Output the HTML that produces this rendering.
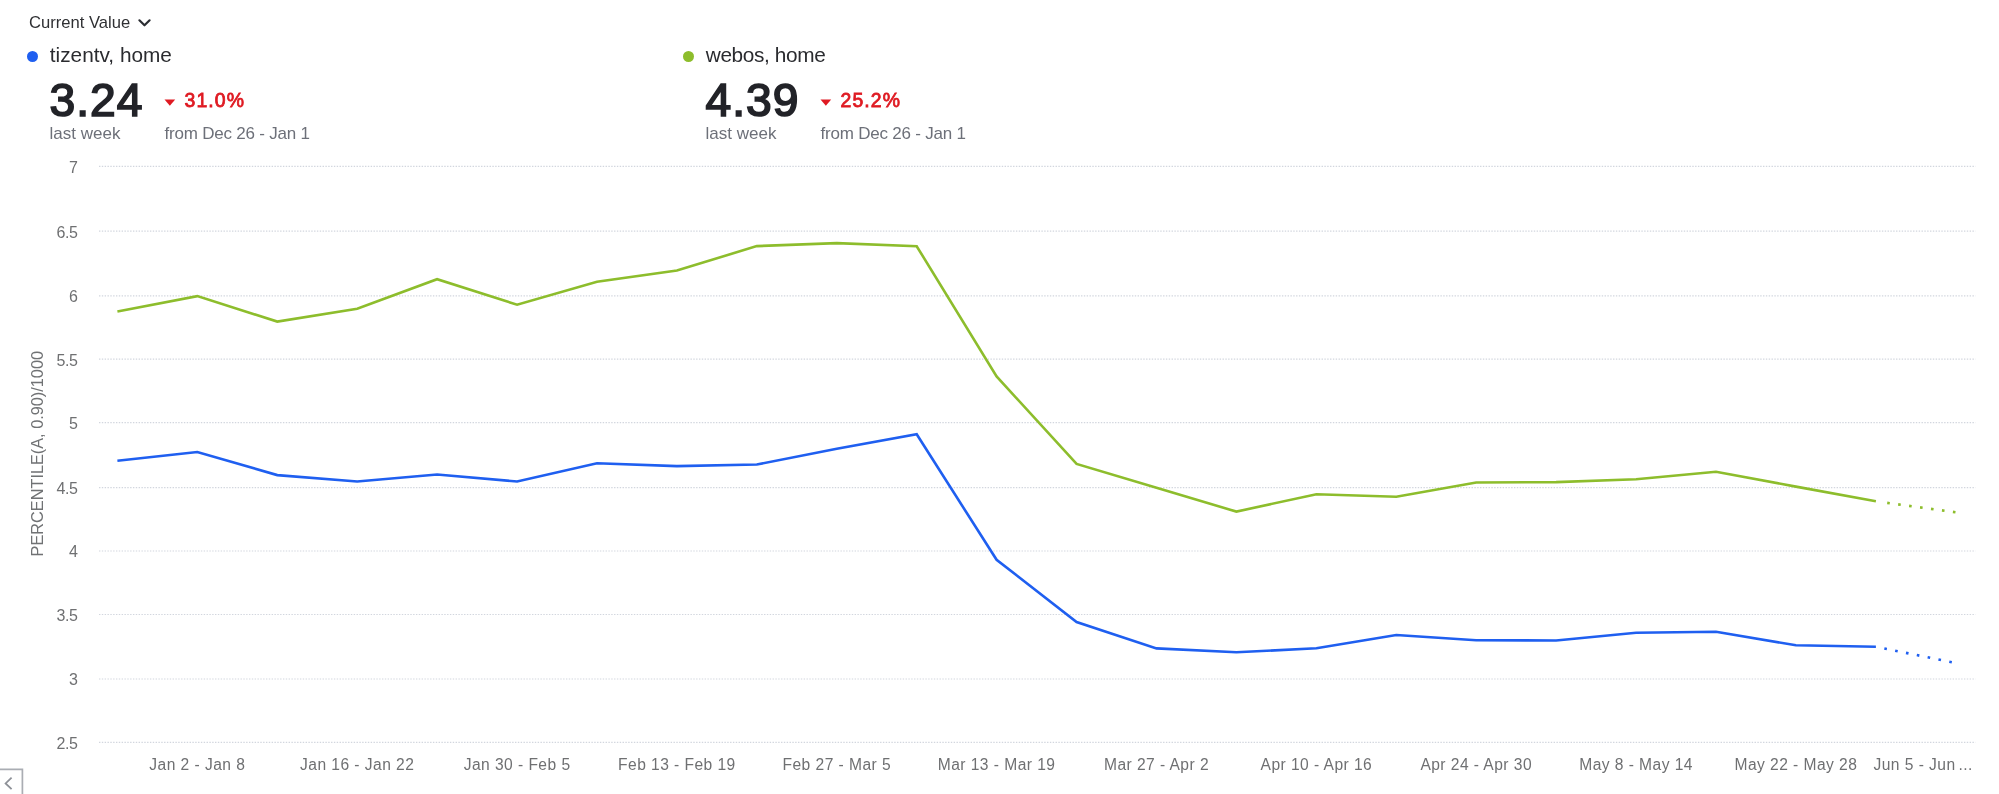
<!DOCTYPE html>
<html><head><meta charset="utf-8"><style>
html,body{margin:0;padding:0;background:#fff;width:1999px;height:794px;overflow:hidden;}
body{position:relative;font-family:"Liberation Sans",sans-serif;}
.wrap{position:absolute;left:0;top:0;width:1999px;height:794px;will-change:transform;}
.abs{position:absolute;}
.title{position:absolute;left:29px;top:12.6px;font-size:16.6px;color:#2f3033;white-space:nowrap;line-height:20px;}
.chev{position:absolute;left:137px;top:17px;}
.dot{position:absolute;width:11px;height:11px;border-radius:50%;}
.name{position:absolute;font-size:20.8px;color:#2a2b2f;white-space:nowrap;line-height:26px;}
.big{position:absolute;font-size:46.2px;font-weight:normal;color:#222328;-webkit-text-stroke:1.7px #222328;letter-spacing:1.0px;white-space:nowrap;line-height:56px;}
.pct{position:absolute;font-size:19.4px;font-weight:normal;color:#df1a22;-webkit-text-stroke:0.8px #df1a22;letter-spacing:1.1px;white-space:nowrap;line-height:24px;}
.sub{position:absolute;font-size:17px;color:#6d7079;white-space:nowrap;line-height:20px;}
.tri{position:absolute;}
svg.chart{position:absolute;left:0;top:0;}
.g{stroke:#d2d6de;stroke-width:1.2;stroke-dasharray:1.4 1.43;}
.yl{font-size:16px;letter-spacing:-0.45px;fill:#6f7072;text-anchor:end;font-family:"Liberation Sans",sans-serif;}
.xl{font-size:15.6px;letter-spacing:0.45px;fill:#6f7072;text-anchor:middle;font-family:"Liberation Sans",sans-serif;}
.yt{font-size:16.3px;fill:#707274;text-anchor:middle;font-family:"Liberation Sans",sans-serif;}
</style></head><body><div class="wrap">
<div class="title">Current Value</div>
<svg class="chev" width="16" height="12" viewBox="0 0 16 12"><path d="M2.4,3.3 L7.5,8.3 L12.6,3.3" fill="none" stroke="#2b2d32" stroke-width="2.2" stroke-linecap="round" stroke-linejoin="round"/></svg>

<div class="dot" style="left:27.2px;top:50.6px;background:#1f5ff0"></div>
<div class="name" style="left:49.8px;top:42.2px;letter-spacing:0.0px">tizentv, home</div>
<div class="big" style="left:49.6px;top:72.0px">3.24</div>
<svg class="tri" style="left:164px;top:98.5px" width="12" height="8" viewBox="0 0 12 8"><path d="M0.5,0.5 H11.2 L5.85,6.7 Z" fill="#df1a22"/></svg>
<div class="pct" style="left:184.6px;top:88.2px">31.0%</div>
<div class="sub" style="left:49.6px;top:123.8px">last week</div>
<div class="sub" style="left:164.6px;top:124px;letter-spacing:-0.22px">from Dec 26 - Jan 1</div>


<div class="dot" style="left:683.2px;top:50.6px;background:#8dbd2c"></div>
<div class="name" style="left:705.8px;top:42.2px;letter-spacing:-0.38px">webos, home</div>
<div class="big" style="left:705.6px;top:72.0px">4.39</div>
<svg class="tri" style="left:820px;top:98.5px" width="12" height="8" viewBox="0 0 12 8"><path d="M0.5,0.5 H11.2 L5.85,6.7 Z" fill="#df1a22"/></svg>
<div class="pct" style="left:840.6px;top:88.2px">25.2%</div>
<div class="sub" style="left:705.6px;top:123.8px">last week</div>
<div class="sub" style="left:820.6px;top:124px;letter-spacing:-0.22px">from Dec 26 - Jan 1</div>

<svg class="chart" width="1999" height="794" viewBox="0 0 1999 794">
<line x1="99" y1="166.4" x2="1975.5" y2="166.4" class="g"/>
<line x1="99" y1="231.2" x2="1975.5" y2="231.2" class="g"/>
<line x1="99" y1="295.8" x2="1975.5" y2="295.8" class="g"/>
<line x1="99" y1="359.2" x2="1975.5" y2="359.2" class="g"/>
<line x1="99" y1="422.7" x2="1975.5" y2="422.7" class="g"/>
<line x1="99" y1="487.6" x2="1975.5" y2="487.6" class="g"/>
<line x1="99" y1="551.0" x2="1975.5" y2="551.0" class="g"/>
<line x1="99" y1="614.5" x2="1975.5" y2="614.5" class="g"/>
<line x1="99" y1="679.0" x2="1975.5" y2="679.0" class="g"/>
<line x1="99" y1="742.4" x2="1975.5" y2="742.4" class="g"/>
<text x="77.5" y="172.8" class="yl">7</text>
<text x="77.5" y="237.5" class="yl">6.5</text>
<text x="77.5" y="302.1" class="yl">6</text>
<text x="77.5" y="365.5" class="yl">5.5</text>
<text x="77.5" y="429.0" class="yl">5</text>
<text x="77.5" y="493.9" class="yl">4.5</text>
<text x="77.5" y="557.3" class="yl">4</text>
<text x="77.5" y="620.8" class="yl">3.5</text>
<text x="77.5" y="685.2" class="yl">3</text>
<text x="77.5" y="748.7" class="yl">2.5</text>
<text x="197.3" y="769.5" class="xl">Jan 2 - Jan 8</text>
<text x="357.2" y="769.5" class="xl">Jan 16 - Jan 22</text>
<text x="517.1" y="769.5" class="xl">Jan 30 - Feb 5</text>
<text x="676.9" y="769.5" class="xl">Feb 13 - Feb 19</text>
<text x="836.8" y="769.5" class="xl">Feb 27 - Mar 5</text>
<text x="996.6" y="769.5" class="xl">Mar 13 - Mar 19</text>
<text x="1156.5" y="769.5" class="xl">Mar 27 - Apr 2</text>
<text x="1316.4" y="769.5" class="xl">Apr 10 - Apr 16</text>
<text x="1476.2" y="769.5" class="xl">Apr 24 - Apr 30</text>
<text x="1636.1" y="769.5" class="xl">May 8 - May 14</text>
<text x="1795.9" y="769.5" class="xl">May 22 - May 28</text>
<text x="1873.5" y="769.5" class="xl" text-anchor="start" style="text-anchor:start">Jun 5 - Jun<tspan x="1958.4">...</tspan></text>
<polyline points="117.4,311.5 197.3,296.1 277.3,321.6 357.2,308.8 437.1,279.2 517.1,304.7 597.0,281.8 676.9,270.5 756.8,246.1 836.8,243.1 916.7,246.2 996.6,376.4 1076.6,463.9 1156.5,487.7 1236.4,511.6 1316.4,494.2 1396.3,496.8 1476.2,482.5 1556.1,482.1 1636.1,479.2 1716.0,471.8 1795.9,486.6 1875.9,501.3" fill="none" stroke="#8dbd2c" stroke-width="2.6" stroke-linejoin="miter"/>
<polyline points="117.4,460.8 197.3,452.0 277.3,475.1 357.2,481.5 437.1,474.5 517.1,481.5 597.0,463.3 676.9,466.1 756.8,464.5 836.8,448.8 916.7,434.3 996.6,559.8 1076.6,622.1 1156.5,648.4 1236.4,652.3 1316.4,648.3 1396.3,635.0 1476.2,640.3 1556.1,640.5 1636.1,632.8 1716.0,631.8 1795.9,645.3 1875.9,646.7" fill="none" stroke="#1f5ff0" stroke-width="2.6" stroke-linejoin="miter"/>
<path d="M1887.21,502.86L1889.79,503.21 M1898.16,504.36L1900.74,504.72 M1909.11,505.87L1911.68,506.22 M1920.05,507.37L1922.63,507.72 M1931.00,508.87L1933.58,509.23 M1941.95,510.38L1944.52,510.73 M1952.90,511.88L1955.47,512.24" stroke="#8dbd2c" stroke-width="2.6" fill="none"/>
<path d="M1884.33,648.43L1886.87,648.96 M1895.15,650.65L1897.70,651.17 M1905.98,652.87L1908.52,653.39 M1916.80,655.09L1919.35,655.61 M1927.63,657.30L1930.17,657.82 M1938.45,659.52L1941.00,660.04 M1949.28,661.74L1951.83,662.26" stroke="#1f5ff0" stroke-width="2.6" fill="none"/>
<text transform="translate(43.3,453.7) rotate(-90)" class="yt">PERCENTILE(A, 0.90)/1000</text>
<path d="M-1,769.4 H22.4 V795" fill="none" stroke="#aaadb3" stroke-width="1.7"/>
<path d="M11.6,777.6 L5.6,783.4 L11.6,789.2" fill="none" stroke="#8e9198" stroke-width="1.8"/>
</svg>
</div></body></html>
